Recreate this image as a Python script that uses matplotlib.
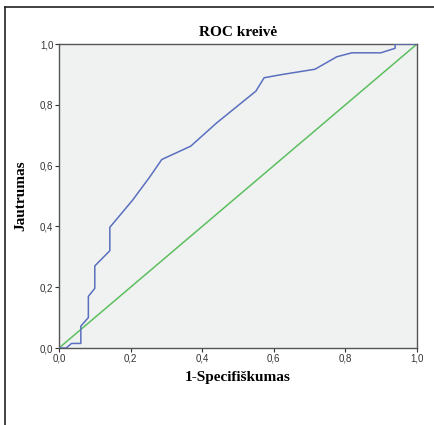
import matplotlib.pyplot as plt
from matplotlib.lines import Line2D

# ROC curve points (1 - specificity, sensitivity)
fpr = [0.0, 0.02, 0.035, 0.061, 0.061, 0.082, 0.082, 0.10, 0.10, 0.142, 0.142,
       0.206, 0.254, 0.287, 0.368, 0.44, 0.550, 0.573, 0.62, 0.715, 0.776,
       0.818, 0.899, 0.939, 0.939, 1.0]
tpr = [0.0, 0.0, 0.015, 0.015, 0.072, 0.10, 0.17, 0.196, 0.27, 0.32, 0.397,
       0.487, 0.5635, 0.62, 0.664, 0.74, 0.845, 0.889, 0.899, 0.917, 0.958,
       0.971, 0.971, 0.986, 1.0, 1.0]
ref = [0.0, 1.0]
ticks = [0.0, 0.2, 0.4, 0.6, 0.8, 1.0]
tick_labels = ['0,0', '0,2', '0,4', '0,6', '0,8', '1,0']

fig = plt.figure(figsize=(4.35, 4.25), dpi=100)
ax = fig.add_axes([59 / 435, 1 - 348 / 425, 358 / 435, 304 / 425])
ax.set_facecolor('#f0f2f1')

ax.plot(fpr, tpr, color='#5a6fbf', lw=1.1, zorder=3)
ax.plot(ref, ref, color='#5cbf5e', lw=1.1, zorder=2)

ax.set_xlim(0, 1)
ax.set_ylim(0, 1)
ax.set_xticks(ticks)
ax.set_xticklabels(tick_labels, family='Liberation Sans')
ax.set_yticks(ticks)
ax.set_yticklabels(tick_labels, family='Liberation Sans')
ax.tick_params(labelsize=7, length=3, width=0.8, colors='#333333', pad=1)
for s in ax.spines.values():
    s.set_color('#555555')
    s.set_linewidth(1.0)

serif = ['Liberation Serif', 'DejaVu Serif']
ax.set_title('ROC kreivė', fontsize=11, fontweight='bold', family=serif, pad=6)
ax.set_xlabel('1-Specifiškumas', fontsize=11, fontweight='bold', family=serif, labelpad=5)
ax.set_ylabel('Jautrumas', fontsize=11, fontweight='bold', family=serif, labelpad=9)

# frame lines at the left and top of the figure
fig.add_artist(Line2D([5.5 / 435, 5.5 / 435], [0, 1 - 7 / 425], color='#222222', lw=1.2,
                      transform=fig.transFigure))
fig.add_artist(Line2D([5.5 / 435, 1], [1 - 7 / 425, 1 - 7 / 425], color='#222222', lw=1.2,
                      transform=fig.transFigure))

fig.savefig('out.png', dpi=100)
